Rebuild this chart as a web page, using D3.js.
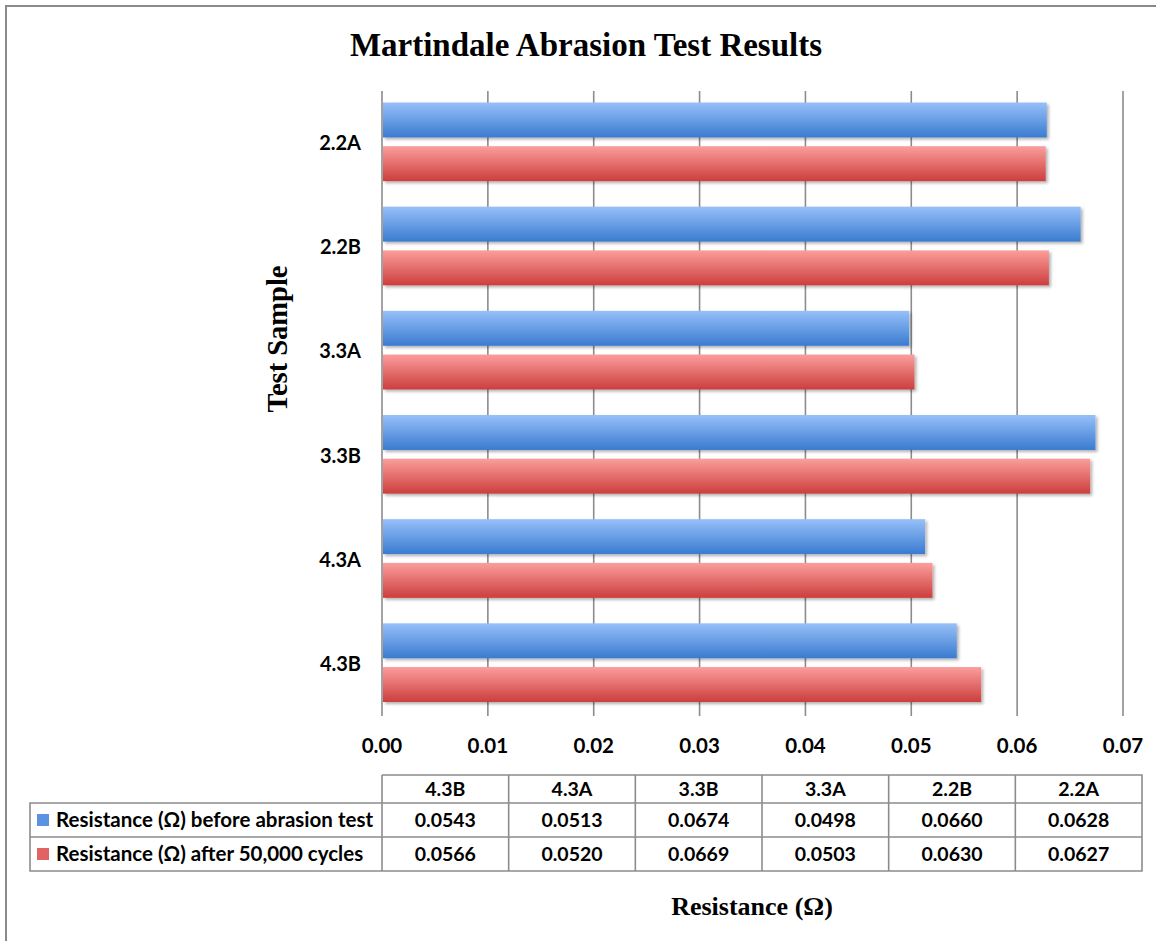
<!DOCTYPE html>
<html>
<head>
<meta charset="utf-8">
<script src="https://cdn.jsdelivr.net/npm/d3@7"></script>
<style>
  body { margin: 0; background: #fff; }
  svg { display: block; }
</style>
</head>
<body>
<script>
// categories in data order (Excel draws them bottom-up)
const samples = ["4.3B", "4.3A", "3.3B", "3.3A", "2.2B", "2.2A"];
const seriesNames = ["Resistance (Ω) before abrasion test", "Resistance (Ω) after 50,000 cycles"];
const beforeValues = [0.0543, 0.0513, 0.0674, 0.0498, 0.0660, 0.0628];
const afterValues = [0.0566, 0.0520, 0.0669, 0.0503, 0.0630, 0.0627];
const xTicks = [0, 0.01, 0.02, 0.03, 0.04, 0.05, 0.06, 0.07];

const width = 1156, height = 941;
const margin = { left: 382, right: 33, top: 91, bottom: 225 };
const sans = "Lato, 'Open Sans', sans-serif";
const serif = "'Liberation Serif', 'Times New Roman', serif";

const svg = d3.select("body").append("svg")
  .attr("width", width)
  .attr("height", height);

const defs = svg.append("defs");
function grad(id, top, bottom) {
  const g = defs.append("linearGradient").attr("id", id)
    .attr("x1", 0).attr("y1", 0).attr("x2", 0).attr("y2", 1);
  g.append("stop").attr("offset", "0%").attr("stop-color", top);
  g.append("stop").attr("offset", "100%").attr("stop-color", bottom);
}
grad("gBlue", "#97c0f9", "#3a7bd0");
grad("gRed", "#fb9e9c", "#cc3e3d");
defs.append("filter").attr("id", "shadow")
  .attr("x", "-5%").attr("y", "-20%").attr("width", "115%").attr("height", "160%")
  .append("feDropShadow")
  .attr("dx", 2).attr("dy", 2).attr("stdDeviation", 1.5)
  .attr("flood-color", "#000").attr("flood-opacity", 0.3);

const fills = ["url(#gBlue)", "url(#gRed)"];
const swatch = ["#5b93e0", "#e06463"];

// outer frame (left + top only, image is cropped)
svg.append("path")
  .attr("d", `M6,${height} V6 H${width}`)
  .attr("fill", "none").attr("stroke", "#8a8a8a").attr("stroke-width", 2);

const x = d3.scaleLinear().domain([0, 0.07]).range([margin.left, width - margin.right]);
const y = d3.scaleBand().domain(samples.slice().reverse())
  .range([margin.top, height - margin.bottom]);
const ySub = d3.scaleBand().domain([0, 1])
  .range([11.5, y.bandwidth() - 14]).paddingInner(0.2);

// gridlines
svg.append("g").selectAll("line").data(xTicks).join("line")
  .attr("x1", d => x(d)).attr("x2", d => x(d))
  .attr("y1", margin.top).attr("y2", height - margin.bottom)
  .attr("stroke", "#8c8c8c").attr("stroke-width", 1.6);

// bars
const rows = samples.map((s, i) => ({ s, v: [beforeValues[i], afterValues[i]] }));
const grp = svg.append("g").selectAll("g").data(rows).join("g")
  .attr("transform", d => `translate(0,${y(d.s)})`);
grp.selectAll("rect").data(d => d.v.map((v, k) => ({ v, k }))).join("rect")
  .attr("x", x(0) + 1)
  .attr("y", d => ySub(d.k))
  .attr("width", d => x(d.v) - x(0) - 1)
  .attr("height", ySub.bandwidth())
  .attr("fill", d => fills[d.k])
  .attr("filter", "url(#shadow)");

// y labels
svg.append("g").selectAll("text").data(samples).join("text")
  .attr("x", margin.left - 21)
  .attr("y", d => y(d) + y.bandwidth() / 2 + 7)
  .attr("text-anchor", "end")
  .style("font", `bold 20px ${sans}`)
  .text(d => d);

// x tick labels
svg.append("g").selectAll("text").data(xTicks).join("text")
  .attr("x", d => x(d))
  .attr("y", 753)
  .attr("text-anchor", "middle")
  .style("font", `bold 20.5px ${sans}`)
  .text(d3.format(".2f"));

// title + axis titles
svg.append("text").attr("x", 586).attr("y", 56).attr("text-anchor", "middle")
  .style("font", `bold 33px ${serif}`).text("Martindale Abrasion Test Results");
svg.append("text").attr("transform", "translate(287,339) rotate(-90)")
  .attr("text-anchor", "middle")
  .style("font", `bold 28.5px ${serif}`).text("Test Sample");
svg.append("text").attr("x", 752).attr("y", 915).attr("text-anchor", "middle")
  .style("font", `bold 26px ${serif}`).text("Resistance (Ω)");

// data table
const colW = (x(0.07) + 19 - x(0)) / samples.length;
const tLeft = 30, tTop = 775, rowH = [28, 34, 34];
const tRight = x(0) + colW * samples.length;
const table = svg.append("g").attr("fill", "none").attr("stroke", "#8c8c8c").attr("stroke-width", 1.6);
const r1 = tTop + rowH[0], r2 = r1 + rowH[1], r3 = r2 + rowH[2];
table.append("path").attr("d",
  `M${x(0)},${tTop} H${tRight} V${r3} H${tLeft} V${r1} H${tRight}` +
  ` M${tLeft},${r2} H${tRight} M${x(0)},${tTop} V${r3}`);
table.selectAll("line").data(d3.range(1, samples.length)).join("line")
  .attr("x1", i => x(0) + i * colW).attr("x2", i => x(0) + i * colW)
  .attr("y1", tTop).attr("y2", r3);

svg.append("g").selectAll("text").data(samples).join("text")
  .attr("x", (d, i) => x(0) + (i + 0.5) * colW).attr("y", r1 - 7)
  .attr("text-anchor", "middle").style("font", `bold 19.5px ${sans}`).text(d => d);
[beforeValues, afterValues].forEach((vals, k) => {
  const base = (k === 0 ? r2 : r3) - 10;
  svg.append("g").selectAll("text").data(vals).join("text")
    .attr("x", (d, i) => x(0) + (i + 0.5) * colW).attr("y", base)
    .attr("text-anchor", "middle").style("font", `bold 19.5px ${sans}`).text(d3.format(".4f"));
  svg.append("rect").attr("x", 37).attr("y", base - 13).attr("width", 12).attr("height", 12)
    .attr("fill", swatch[k]);
  svg.append("text").attr("x", 56).attr("y", base)
    .style("font", `bold 20.5px ${sans}`).text(seriesNames[k]);
});
</script>
</body>
</html>
